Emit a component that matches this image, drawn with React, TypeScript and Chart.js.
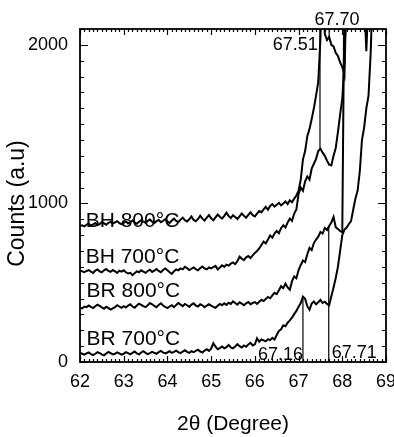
import React, { useEffect, useRef } from 'react';
import { Chart, registerables } from 'chart.js';

Chart.register(...registerables);

// ---------- data ----------
const THETA_START = 62;
const THETA_STEP = 0.05;

const xTickValues = [62, 63, 64, 65, 66, 67, 68, 69];
const yTickValues = [0, 1000, 2000];

const xTitle = '2θ (Degree)';
const yTitle = 'Counts (a.u)';

const seriesNames = ['BH 800°C', 'BH 700°C', 'BR 800°C', 'BR 700°C'];

const bh800 = [
  858, 862, 855, 866, 872, 860, 868, 876, 864, 870, 882, 874, 866, 878, 884, 872, 880, 888, 876, 870,
  878, 886, 874, 882, 892, 880, 872, 884, 894, 886, 878, 890, 898, 884, 876, 888, 896, 882, 890, 900,
  888, 876, 892, 904, 890, 882, 898, 910, 894, 886, 900, 918, 896, 888, 902, 922, 904, 892, 910, 926,
  906, 894, 912, 930, 916, 904, 922, 942, 920, 908, 926, 914, 902, 918, 936, 922, 910, 928, 944, 926,
  918, 936, 952, 944, 962, 978, 960, 984, 996, 980, 992, 1004, 988, 1000, 1012, 996, 1020, 1008, 1030, 1050,
  1080, 1150, 1278, 1330, 1424, 1470, 1532, 1600, 1680, 1766, 2040, 2500, 2070, 2030, 2050, 2000, 1990, 1950, 1930, 1890,
  1860, 1810, 2400, 2700,
];

const bh700 = [
  578, 572, 566, 574, 580, 570, 562, 576, 584, 572, 566, 578, 586, 574, 568, 580, 572, 562, 576, 570,
  578, 566, 558, 562, 548, 560, 572, 566, 578, 570, 562, 574, 582, 568, 576, 586, 574, 566, 580, 590,
  578, 566, 556, 572, 584, 578, 590, 584, 600, 592, 580, 588, 596, 586, 578, 592, 602, 590, 584, 596,
  590, 598, 606, 584, 596, 610, 600, 614, 608, 620, 628, 618, 636, 664, 652, 642, 660, 668, 656, 672,
  688, 700, 716, 738, 760, 748, 772, 798, 784, 810, 826, 812, 844, 862, 848, 880, 904, 890, 936, 962,
  1060, 1100, 1080, 1140, 1170, 1150, 1220, 1250, 1280, 1330, 1345, 1320, 1300, 1270, 1245, 1240, 1300, 1350, 1450, 1560,
  1660, 1900, 2400, 2700,
];

const br800 = [
  342, 338, 350, 346, 356, 348, 340, 352, 362, 354, 344, 336, 348, 340, 330, 338, 346, 358, 350, 342,
  352, 344, 356, 364, 350, 342, 356, 368, 360, 352, 346, 358, 372, 364, 354, 346, 360, 370, 356, 348,
  340, 350, 358, 346, 360, 372, 362, 352, 366, 358, 348, 362, 370, 356, 350, 364, 358, 346, 356, 364,
  356, 348, 342, 354, 366, 358, 370, 360, 374, 366, 382, 372, 362, 376, 368, 358, 370, 378, 364, 372,
  378, 366, 380, 392, 384, 398, 410, 402, 420, 436, 428, 452, 478, 466, 494, 470, 456, 510, 540, 528,
  580, 612, 640, 630, 680, 720, 706, 750, 772, 790, 820, 810, 845, 832, 858, 880, 915, 850, 838, 826,
  818, 2400, 2700, null, null, null, null, null, null, 2700, 2300, 1960, 2300, 2700,
];

const br700 = [
  58, 52, 46, 54, 60, 50, 44, 52, 62, 56, 48, 42, 54, 64, 56, 48, 52, 60, 54, 46,
  52, 62, 56, 48, 58, 66, 54, 48, 60, 68, 58, 50, 56, 64, 58, 52, 62, 70, 60, 54,
  60, 68, 58, 64, 72, 62, 56, 66, 74, 64, 58, 68, 62, 70, 78, 66, 60, 72, 80, 70,
  84, 118, 96, 80, 88, 98, 86, 94, 108, 92, 86, 98, 112, 100, 92, 104, 96, 110, 120, 104,
  112, 150, 128, 142, 136, 130, 144, 138, 152, 142, 170, 196, 206, 232, 226, 248, 262, 280, 302, 322,
  348, 372, 412, 398, 352, 330, 368, 382, 364, 376, 392, 372, 380, 366, 358, 415, 470, 530, 600, 700,
  800, 835, 848, 870, 888, 960, 1030, 1080, 1200, 1400, 1480, 1600, 1680, 1950, 2400, 2700,
];

// peak marker lines (drop lines) and their labels
const markerX = [67.10, 67.69, 67.49, 67.70];
const markerFrom = [0, 0, 1340, 2050];
const markerTo = [412, 858, 2100, 2100];

const peakLabels = ['67.16', '67.71', '67.51', '67.70'];
const peakLabelX = [67.10, 67.76, 67.44, 67.88];
const peakLabelY = [13, 25, 1968, 2125];
const peakLabelAlign: CanvasTextAlign[] = ['right', 'left', 'right', 'center'];

const seriesLabelX = [62.13, 62.13, 62.15, 62.15];
const seriesLabelY = [851, 624, 410, 107];

const FONT = '"Liberation Sans", Arial, Helvetica, sans-serif';

const toPoints = (vals: (number | null)[]) =>
  vals.map((v, i) => ({ x: +(THETA_START + i * THETA_STEP).toFixed(2), y: v }));

const decorPlugin = {
  id: 'decor',
  afterDatasetsDraw(chart: any) {
    const { ctx, chartArea: a, scales } = chart;
    const xs = scales.x;
    const ys = scales.y;
    ctx.save();
    ctx.strokeStyle = '#000';
    ctx.lineWidth = 1.2;
    ctx.beginPath();
    // x minor/major ticks (inward, top and bottom)
    for (let k = 0; k <= 70; k++) {
      const v = 62 + k * 0.1;
      const px = Math.round(xs.getPixelForValue(v)) + 0.5;
      const len = k % 10 === 0 ? 6 : 3;
      ctx.moveTo(px, a.bottom);
      ctx.lineTo(px, a.bottom - len);
      ctx.moveTo(px, a.top);
      ctx.lineTo(px, a.top + len);
    }
    // y minor/major ticks (inward, left and right)
    for (let k = 0; k <= 21; k++) {
      const v = k * 100;
      const py = Math.round(ys.getPixelForValue(v)) + 0.5;
      const len = k % 10 === 0 ? 8 : 4;
      ctx.moveTo(a.left, py);
      ctx.lineTo(a.left + len, py);
      ctx.moveTo(a.right, py);
      ctx.lineTo(a.right - len, py);
    }
    ctx.stroke();
    ctx.lineWidth = 1.8;
    ctx.strokeRect(a.left, a.top, a.right - a.left, a.bottom - a.top);

    ctx.fillStyle = '#000';
    // y axis title (rotated)
    ctx.save();
    ctx.translate(18, (a.top + a.bottom) / 2 + 8);
    ctx.rotate(-Math.PI / 2);
    ctx.font = `23px ${FONT}`;
    ctx.textAlign = 'center';
    ctx.textBaseline = 'middle';
    ctx.fillText(yTitle, 0, 0);
    ctx.restore();

    // series labels
    ctx.textBaseline = 'alphabetic';
    ctx.font = `21px ${FONT}`;
    ctx.textAlign = 'left';
    seriesNames.forEach((name, i) => {
      ctx.fillText(name, xs.getPixelForValue(seriesLabelX[i]), ys.getPixelForValue(seriesLabelY[i]));
    });
    // peak labels
    ctx.font = `18px ${FONT}`;
    peakLabels.forEach((t, i) => {
      ctx.textAlign = peakLabelAlign[i];
      ctx.fillText(t, xs.getPixelForValue(peakLabelX[i]), ys.getPixelForValue(peakLabelY[i]));
    });
    ctx.restore();
  },
};

export default function App() {
  const ref = useRef<HTMLCanvasElement>(null);

  useEffect(() => {
    const curves = [bh800, bh700, br800, br700].map((vals, i) => ({
      label: seriesNames[i],
      data: toPoints(vals),
      borderColor: '#000',
      backgroundColor: '#000',
      borderWidth: 2,
      pointRadius: 0,
      tension: 0,
      spanGaps: false,
    }));
    const markers = markerX.map((x, i) => ({
      label: 'peak ' + peakLabels[i],
      data: [
        { x, y: markerFrom[i] },
        { x, y: markerTo[i] },
      ],
      borderColor: '#000',
      borderWidth: 1.2,
      pointRadius: 0,
    }));

    const chart = new Chart(ref.current!, {
      type: 'line',
      data: { datasets: [...curves, ...markers] as any },
      options: {
        responsive: false,
        animation: false,
        events: [],
        layout: { padding: { top: 29, right: 8, left: 0, bottom: 0 } },
        plugins: { legend: { display: false }, tooltip: { enabled: false } },
        scales: {
          x: {
            type: 'linear',
            min: 62,
            max: 69,
            afterBuildTicks: (s: any) => {
              s.ticks = xTickValues.map((v) => ({ value: v }));
            },
            afterFit: (s: any) => {
              s.height = 75;
              s.paddingLeft = 0;
              s.paddingRight = 0;
            },
            grid: { display: false, drawTicks: false },
            border: { display: false },
            ticks: {
              color: '#000',
              font: { family: FONT, size: 18 },
              padding: 9,
              maxRotation: 0,
              autoSkip: false,
              callback: (v: any) => String(v),
            },
            title: {
              display: true,
              text: xTitle,
              color: '#000',
              font: { family: FONT, size: 21 },
              padding: { top: 0, bottom: 0 },
            },
          },
          y: {
            type: 'linear',
            min: 0,
            max: 2100,
            afterBuildTicks: (s: any) => {
              s.ticks = yTickValues.map((v) => ({ value: v }));
            },
            afterFit: (s: any) => {
              s.width = 80;
              s.paddingTop = 0;
              s.paddingBottom = 0;
            },
            grid: { display: false, drawTicks: false },
            border: { display: false },
            ticks: {
              color: '#000',
              font: { family: FONT, size: 18 },
              padding: 12,
              autoSkip: false,
              callback: (v: any) => String(v),
            },
            title: { display: false },
          },
        },
      },
      plugins: [decorPlugin],
    });
    return () => chart.destroy();
  }, []);

  return (
    <div style={{ position: 'fixed', left: 0, top: 0, width: 394, height: 437, background: '#fff' }}>
      <canvas ref={ref} width={394} height={437} style={{ display: 'block' }} />
    </div>
  );
}
